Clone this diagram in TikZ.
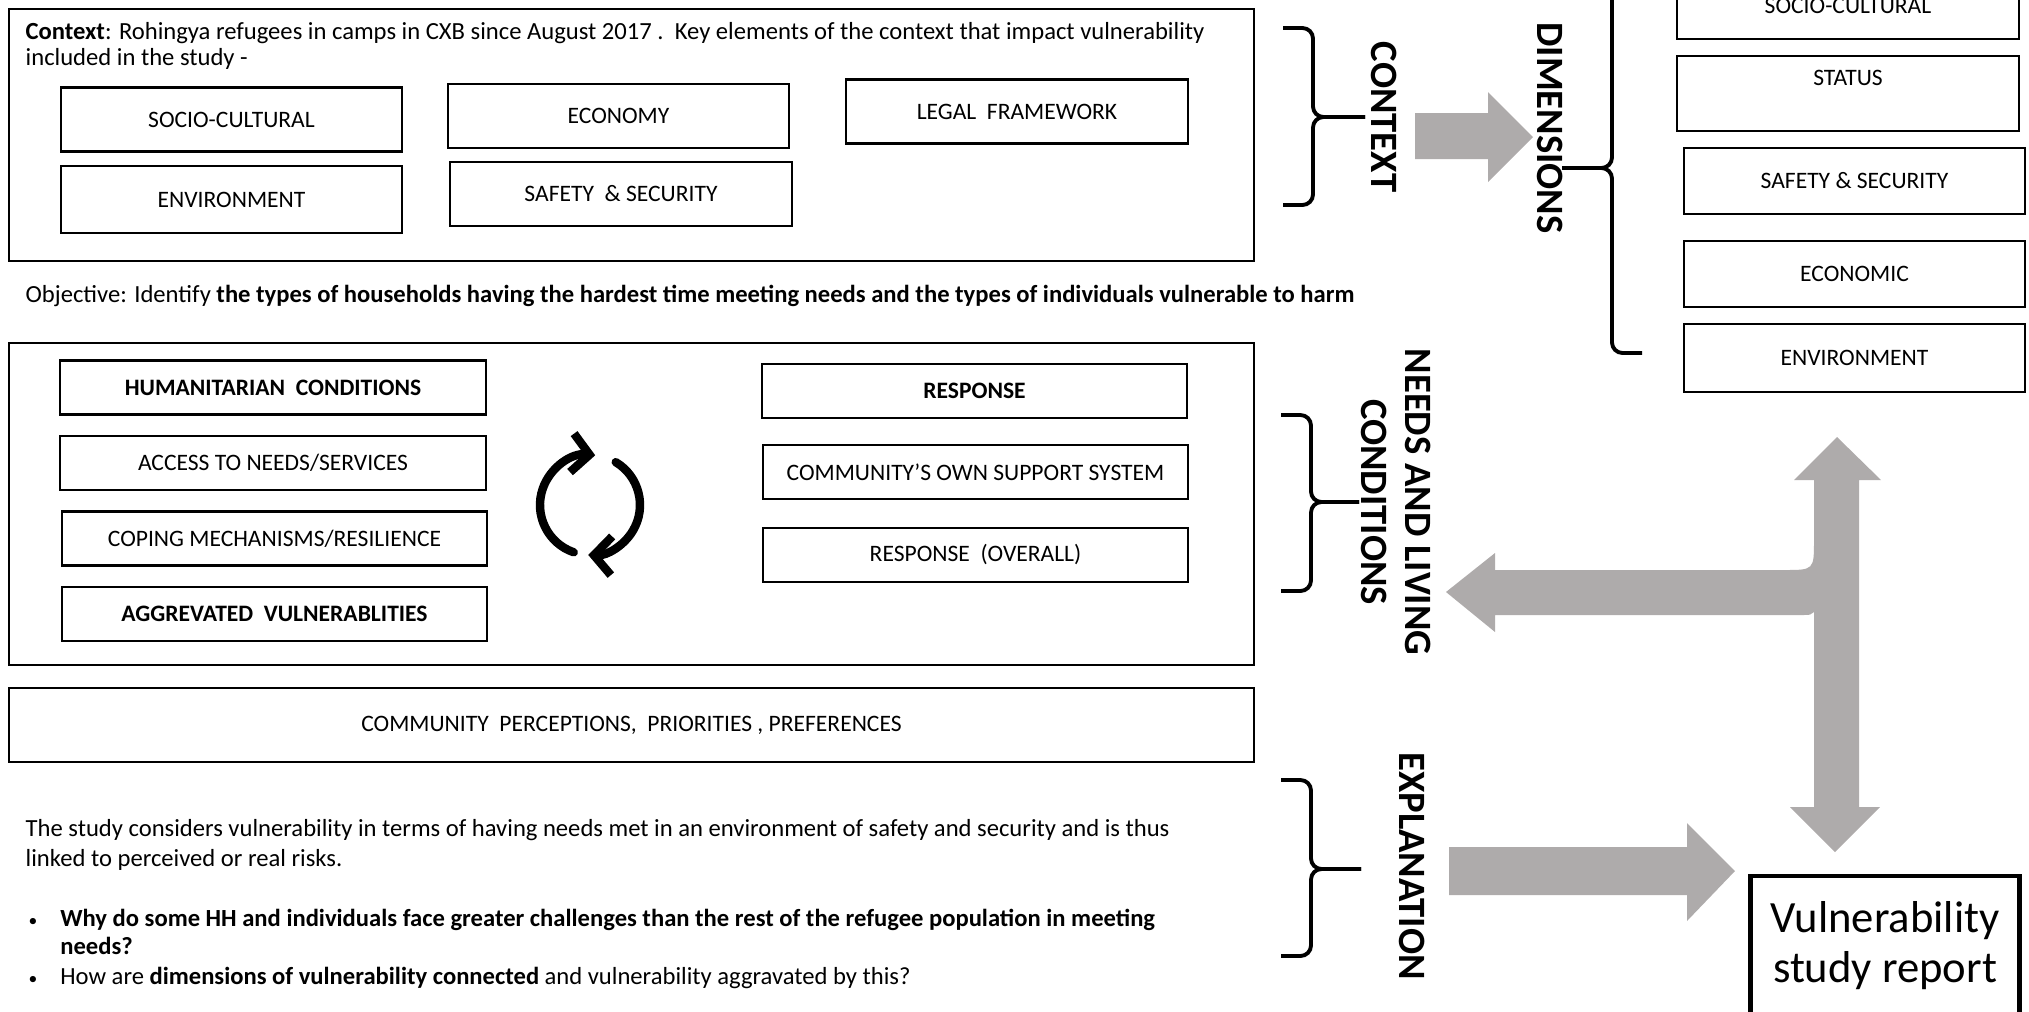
\documentclass[tikz,border=0pt]{standalone}
\usepackage{fontspec}
\setmainfont{Carlito}
\usepackage{tikz}
\usetikzlibrary{arrows.meta}
\definecolor{arrowgrey}{RGB}{174,171,171}
\tikzstyle{panel} = [draw, line width=0.6pt, minimum width=12.45cm, inner sep=0pt, font={\fontsize{6.7}{8}\selectfont}]
\tikzstyle{box} = [draw, line width=0.6pt, inner sep=0pt, font={\fontsize{6.7}{8}\selectfont}]
\tikzstyle{ctx} = [box, minimum width=3.41cm, minimum height=0.64cm]
\tikzstyle{cond} = [box, minimum width=4.25cm, minimum height=0.54cm]
\tikzstyle{dim} = [box, minimum width=3.40cm, minimum height=0.66cm]
\tikzstyle{hard} = [font={\fontsize{6.7}{8}\selectfont\bfseries}]
\tikzstyle{body} = [align=left, inner sep=0pt, font={\fontsize{7}{7.5}\selectfont}]
\tikzstyle{side} = [rotate=-90, align=center, inner sep=0pt, font={\fontsize{11}{12.5}\selectfont\bfseries}]
\tikzstyle{brace} = [line width=1.1pt, rounded corners=3pt]
\tikzstyle{bigarrow} = [fill=arrowgrey]
\tikzstyle{cycle} = [line width=2.4pt, line cap=round, -{Straight Barb[length=5pt,width=11pt]}]

\begin{document}
\begin{tikzpicture}[x=0.01cm, y=-0.01cm]
        \useasboundingbox (0,0) rectangle (2029,1011);
        \clip (0,0) rectangle (2029,1011);
        \node[panel, minimum height=2.52cm](ctxpanel) at (631.5,135){};
        \node[body, anchor=west](ctxtext) at (25,46){\textbf{Context}: Rohingya refugees in camps in CXB since August 2017 .\ \ Key elements of the context that impact vulnerability\\included in the study -};
        \node[ctx](socio) at (231.5,119.5){SOCIO-CULTURAL};
        \node[ctx](economy) at (618.5,116){ECONOMY};
        \node[ctx](legal) at (1017,111.5){LEGAL\ \ FRAMEWORK};
        \node[ctx, minimum height=0.67cm](envir) at (231.5,199.5){ENVIRONMENT};
        \node[ctx](safety) at (621,194){SAFETY\ \ \&\ SECURITY};
        \node[body, anchor=west](objective) at (25,296){Objective: Identify \textbf{the types of households\ having\ the hardest\ time meeting needs and the types of individuals\ vulnerable to harm}};
        \node[panel, minimum height=3.22cm](needpanel) at (631.5,504){};
        \node[cond, hard](humanit) at (273,387.5){HUMANITARIAN\ \ CONDITIONS};
        \node[cond](access) at (273,463){ACCESS\ TO NEEDS/SERVICES};
        \node[cond](coping) at (274.5,538.5){COPING MECHANISMS/RESILIENCE};
        \node[cond, hard](aggrev) at (274.5,614){AGGREVATED\ \ VULNERABLITIES};
        \node[cond, hard](resp) at (974.5,391){RESPONSE};
        \node[cond](commsup) at (975.5,472){COMMUNITY’S OWN SUPPORT SYSTEM};
        \node[cond](respall) at (975.5,555){RESPONSE\ \ (OVERALL)};
        \coordinate (cyc) at (590,505);
        \draw[cycle] (cyc) ++(109:50) arc (109:276:50);
        \draw[cycle] (cyc) ++(-59:50) arc (-59:92:50);
        \node[panel, minimum height=0.74cm](percep) at (631.5,725){COMMUNITY\ \ PERCEPTIONS,\ \ PRIORITIES\ ,\ PREFERENCES};
        \node[body, anchor=west](study) at (25,845){The study considers vulnerability in terms of having needs met\ in an environment of safety and security and is thus\\[1pt]linked to perceived or real risks.};
        \node[body, anchor=west](questions) at (28,949){\makebox[9pt][l]{\fontsize{5}{5}\selectfont\textbullet}\textbf{Why do some HH and individuals\ face greater challenges\ than the rest of the refugee population\ in meeting}\\[0.5pt]
          \hspace*{9pt}\textbf{needs?}\\[1pt]
          \makebox[9pt][l]{\fontsize{5}{5}\selectfont\textbullet}How are \textbf{dimensions\ of vulnerability\ connected} and vulnerability aggravated\ by this?};
        \draw[brace] (1283,28) -| (1313,117) -- (1365,117);
        \draw[brace] (1283,205) -| (1313,117) -- (1365,117);
        \node[side](ctxlabel) at (1384,117){CONTEXT};
        \fill[bigarrow] (1415,113) -- (1488,113) -- (1488,92) -- (1533,137) -- (1488,182) -- (1488,159) -- (1415,159) -- cycle;
        \node[side](dimlabel) at (1550,128){DIMENSIONS};
        \draw[brace] (1642,-17) -| (1612,168) -- (1562,168);
        \draw[brace] (1642,353) -| (1612,168) -- (1562,168);
        \node[dim, minimum width=3.42cm, minimum height=0.67cm](dsocio) at (1848,5.5){SOCIO-CULTURAL};
        \node[dim, minimum width=3.42cm, minimum height=0.75cm, text height=0.11cm, text depth=0.27cm](dstatus) at (1848,93.5){STATUS};
        \node[dim](dsafety) at (1854.5,181){SAFETY \& SECURITY};
        \node[dim](deco) at (1854.5,274){ECONOMIC};
        \node[dim, minimum height=0.68cm](denv) at (1854.5,358){ENVIRONMENT};
        \draw[brace] (1281,415) -| (1311,502) -- (1359,502);
        \draw[brace] (1281,591) -| (1311,502) -- (1359,502);
        \node[side](needlabel) at (1396,502){NEEDS AND LIVING\\CONDITIONS};
        \draw[brace] (1281,780) -| (1311,869) -- (1361,869);
        \draw[brace] (1281,956) -| (1311,869) -- (1361,869);
        \node[side](explabel) at (1412,866){EXPLANATION};
        \fill[bigarrow] (1837,437) -- (1881,480) -- (1859,480) -- (1859,807) -- (1880,807) -- (1835,852) -- (1790,807) -- (1814,807) -- (1814,612) .. controls (1811,615) .. (1800,615) -- (1495,615) -- (1495,632) -- (1446,592) -- (1495,553) -- (1495,570) -- (1784,570) .. controls (1814,570) .. (1814,540) -- (1814,480) -- (1794,480) -- cycle;
        \fill[bigarrow] (1449,847) -- (1687,847) -- (1687,823) -- (1735,871) -- (1687,921) -- (1687,895) -- (1449,895) -- cycle;
        \node[draw, line width=1.4pt, minimum width=2.68cm, minimum height=1.39cm, align=center, font={\fontsize{12.7}{14}\selectfont}](report) at (1885,945.5){Vulnerability\\study report};
      \end{tikzpicture}
\end{document}
